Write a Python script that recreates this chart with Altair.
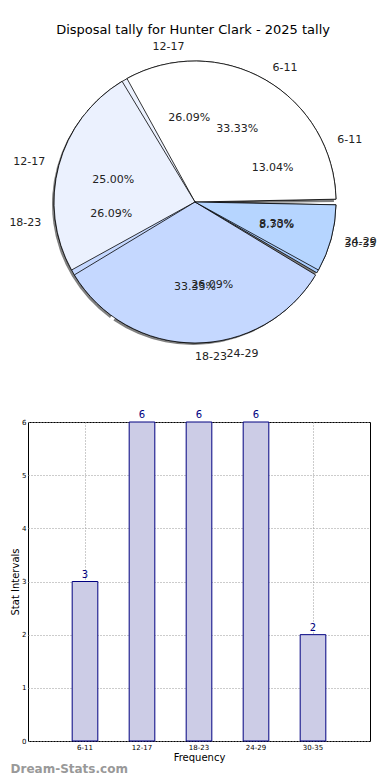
import math
import altair as alt
import pandas as pd

# ---- data ----
categories = ["6-11", "12-17", "18-23", "24-29", "30-35"]
tally = [3, 6, 6, 6, 2]                      # bar values / lower pie
top_pie_categories = ["6-11", "12-17", "18-23", "24-29"]
top_pie_values = [4, 3, 4, 1]                 # upper pie (33.33/25/33.33/8.33 %)
slice_colors = ["#ffffff", "#ebf1fe", "#c5d8ff", "#b6d5ff", "#a9cdff"]
title_text = "Disposal tally for Hunter Clark - 2025 tally"


def pie_table(cats, vals):
    total = sum(vals)
    rows, cum = [], 0
    for c, v in zip(cats, vals):
        start = cum / total
        cum += v
        end = cum / total
        mid = (start + end) / 2
        ang = 360 * mid
        rows.append(dict(cat=c, value=v, start=start, end=end, mid=mid,
                         side="left" if 90 < ang < 270 else "right",
                         pct=f"{100 * v / total:.2f}%"))
    return pd.DataFrame(rows)


lower = pie_table(categories, tally)
upper = pie_table(top_pie_categories, top_pie_values)

theta_scale = alt.Scale(domain=[0, 1], range=[math.pi / 2, math.pi / 2 - 2 * math.pi])
color_enc = alt.Color("cat:N", scale=alt.Scale(domain=categories, range=slice_colors), legend=None)
R = 141
FONT = "DejaVu Sans"


def arcs(df):
    return alt.Chart(df).mark_arc(outerRadius=R, padAngle=0.04, stroke="#000", strokeWidth=0.8).encode(
        theta=alt.Theta("start:Q", scale=theta_scale, stack=False),
        theta2="end:Q",
        color=color_enc,
    )


def labels(df):
    out = []
    for side, al in (("left", "right"), ("right", "left")):
        out.append(
            alt.Chart(df).transform_filter(alt.datum.side == side)
            .mark_text(radius=R * 1.1, align=al, baseline="middle", fontSize=11, font=FONT, color="#222")
            .encode(theta=alt.Theta("mid:Q", scale=theta_scale, stack=False), text="cat:N")
        )
    out.append(
        alt.Chart(df).mark_text(radius=R * 0.6, align="center", baseline="middle", fontSize=11, font=FONT, color="#222")
        .encode(theta=alt.Theta("mid:Q", scale=theta_scale, stack=False), text="pct:N")
    )
    return out


shadow = alt.Chart(lower).mark_arc(outerRadius=R, padAngle=0.03, xOffset=-2, yOffset=2,
                                   fill="#555", opacity=0.75).encode(
    theta=alt.Theta("start:Q", scale=theta_scale, stack=False),
    theta2="end:Q",
)

pie = alt.layer(
    shadow, arcs(lower), arcs(upper), *labels(lower), *labels(upper)
).properties(width=334, height=316, view=alt.ViewBackground(stroke="transparent"))

# ---- bar chart ----
bar_df = pd.DataFrame({"cat": categories, "value": tally})
x_enc = alt.X(
    "cat:N", sort=categories,
    scale=alt.Scale(paddingInner=0.55, paddingOuter=0.775),
    axis=alt.Axis(title="Frequency", labelAngle=0, labelFontSize=7, labelPadding=2, titleFontSize=10,
                  titlePadding=2, grid=True, gridDash=[1, 2], gridColor="#999", ticks=False, domain=False,
                  labelColor="#000", titleColor="#000", titleFontWeight="normal"),
)
y_enc = alt.Y(
    "value:Q", scale=alt.Scale(domain=[0, 6], nice=False),
    axis=alt.Axis(title="Stat Intervals", values=[0, 1, 2, 3, 4, 5, 6], format="d", labelFontSize=7,
                  labelPadding=2, titleFontSize=10, titlePadding=1, grid=True, gridDash=[1, 2],
                  gridColor="#999", ticks=False, domain=False, labelColor="#000", titleColor="#000",
                  titleFontWeight="normal"),
)
bars = alt.Chart(bar_df).mark_bar(fill="#ccccE6", stroke="#000080", strokeWidth=1).encode(x=x_enc, y=y_enc)
bar_text = alt.Chart(bar_df).mark_text(baseline="bottom", dy=-2, color="#000080", fontSize=10, font=FONT).encode(
    x=alt.X("cat:N", sort=categories), y="value:Q", text="value:Q")

bar_chart = alt.layer(bars, bar_text).properties(
    width=342, height=319,
    view=alt.ViewBackground(stroke="#000", strokeWidth=1),
    title=alt.TitleParams("Dream-Stats.com", orient="bottom", anchor="start", fontSize=12, color="#999",
                          fontWeight="bold", font=FONT, offset=2, frame="bounds"),
)

chart = alt.vconcat(
    pie, bar_chart, spacing=62, bounds="flush",
    title=alt.TitleParams(title_text, fontSize=13, fontWeight="normal", font=FONT, anchor="middle", offset=4,
                          color="#000"),
).properties(padding={"left": 0, "top": 15, "right": 0, "bottom": 0}).configure(font=FONT)

chart.save("out.html", embed_options={"renderer": "svg", "actions": False})
